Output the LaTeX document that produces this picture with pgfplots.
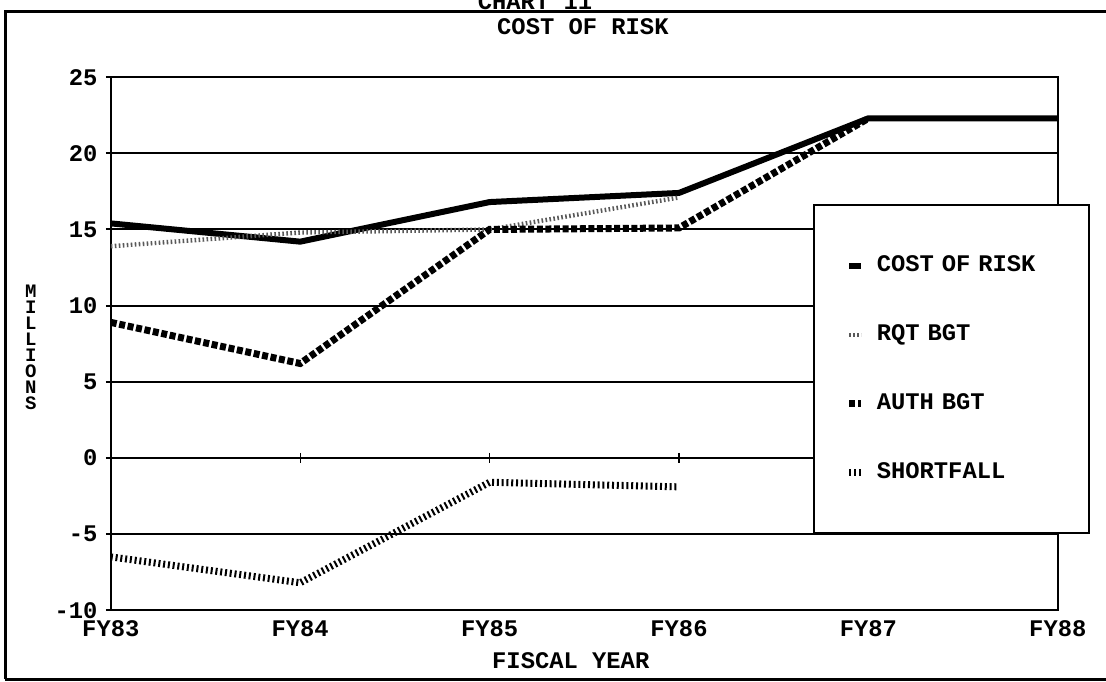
\documentclass[border=0pt]{standalone}
\usepackage{pgfplots}
\pgfplotsset{compat=1.18}
\usepackage{fontspec}
\setmainfont{Liberation Mono}
\begin{document}
\fontsize{11.9}{14}\selectfont\bfseries
\begin{tikzpicture}[x=1pt,y=1pt]
\useasboundingbox (0,0) rectangle (553,340.5);
\fill[white] (0,0) rectangle (553,340.5);
\draw[line width=1.5pt] (2.5,1) -- (2.5,334.5) -- (553,334.5);
\draw[line width=1.5pt] (2.5,1) -- (553,1);
\node[anchor=base, inner sep=0pt] at (267.5,335.5) {CHART 11};
\begin{axis}[
  at={(58.5,46.5)}, anchor=south west,
  scale only axis, width=473.5pt, height=266.5pt,
  xmin=0, xmax=5, ymin=-10, ymax=25,
  xtick={0,...,5}, xticklabels={FY83,FY84,FY85,FY86,FY87,FY88},
  ytick={-10,-5,...,25},
  ymajorgrids, grid style={line width=1pt, black},
  axis line style={line width=1pt},
  x tick style={draw=none},
  y tick style={line width=1pt, black},
  tick align=outside, major tick length=2.5pt,
  xtick pos=bottom, ytick pos=left,
  font=\fontsize{11.9}{14}\selectfont\bfseries,
  /pgf/number format/assume math mode=true,
  xticklabel style={anchor=base, yshift=-10.5pt},
  yticklabel style={anchor=east, xshift=0pt},
  title={COST OF RISK},
  title style={at={(0.4985,1.0732)}, anchor=center, inner sep=0pt},
  xlabel={FISCAL YEAR},
  xlabel style={at={(0.4857,-0.0938)}, anchor=center, inner sep=0pt},
  ylabel={M\\I\\L\\L\\I\\O\\N\\S},
  ylabel style={at={(-0.0845,0.4934)}, anchor=center, rotate=-90, inner sep=0pt, align=center, font=\fontsize{9.5}{8}\selectfont\bfseries},
  legend image code/.code={\draw[#1] (0pt,0pt) -- (6pt,0pt);},
  legend style={at={(0.7413,0.7617)}, anchor=north west, draw=black, line width=1pt, fill=white,
     inner xsep=16pt, inner ysep=13pt, row sep=0pt, column sep=6pt,
     nodes={inner sep=0pt, minimum height=34.5pt, anchor=west, text width=90pt},
     font=\fontsize{11.9}{14}\selectfont\bfseries},
  legend cell align=left,
]
\addplot[only marks, mark=|, mark size=2.5pt, mark options={line width=0.6pt, black}, forget plot]
  coordinates {(1,0) (2,0) (3,0) (4,0)};
\addplot[black, line width=3pt, line join=round]
  coordinates {(0,15.4) (1,14.2) (2,16.8) (3,17.4) (4,22.3) (5,22.3)};
\addlegendentry{COST OF RISK}
\addplot[black!65, line width=2.2pt, dash pattern=on 0.8pt off 1.2pt]
  coordinates {(0,13.9) (1,14.8) (2,15.0) (3,17.1)};
\addlegendentry{RQT BGT}
\addplot[black, line width=3.5pt, dash pattern=on 3pt off 1.3pt]
  coordinates {(0,8.9) (1,6.2) (2,15.0) (3,15.1) (4,22.3)};
\addlegendentry{AUTH BGT}
\addplot[black, line width=3.5pt, dash pattern=on 1pt off 1.4pt]
  coordinates {(0,-6.5) (1,-8.2) (2,-1.6) (3,-1.9)};
\addlegendentry{SHORTFALL}
\end{axis}
\end{tikzpicture}
\end{document}
